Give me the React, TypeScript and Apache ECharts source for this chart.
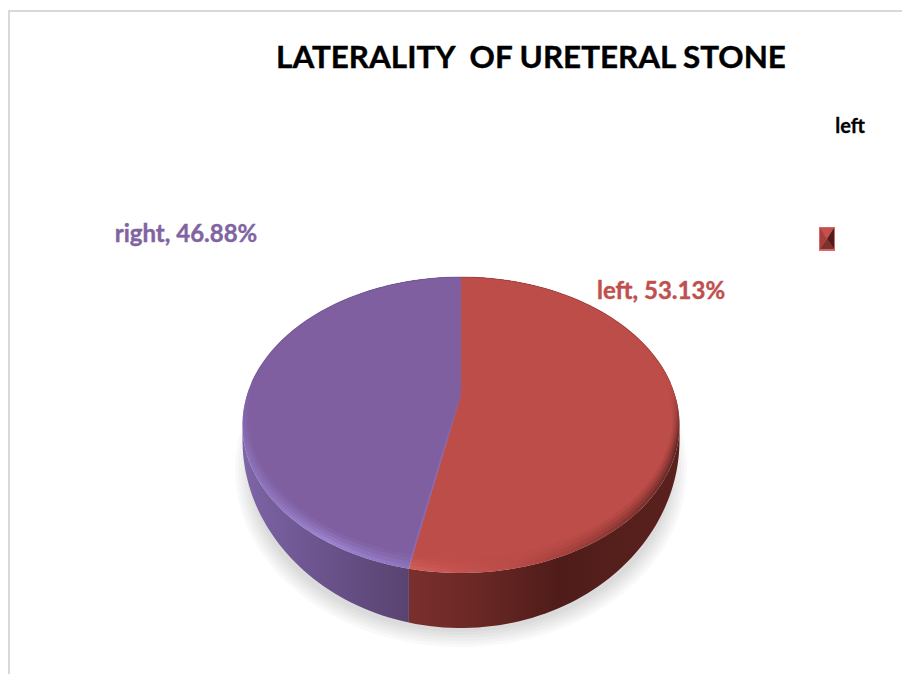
import React, { useEffect, useRef } from "react";
import * as echarts from "echarts";

const categories = ["left", "right"];
const percentages = [53.13, 46.88];
const titleText = "LATERALITY  OF URETERAL STONE";
const legendLabel = "left";

const FONT = "Lato, 'Open Sans', sans-serif";
const faceColors = ["#bd4d49", "#7f5fa0"];
const faceClear = ["rgba(189,77,73,0)", "rgba(127,95,160,0)"];
const edgeColors = ["rgba(120,40,36,0.4)", "rgba(90,65,120,0.4)"];
const labelColors = ["#bf504d", "#8064a2"];
const labelAnchors = [
  { x: 661, y: 289 },
  { x: 186, y: 232 },
];

// Projection of the round pie on to the page: a perspective ellipse.
const CX = 461;
const CY = 395;
const K = 0.2027;
const A = 214;
const B = 141.9;
const BOTTOM_CY = 440;
const BOTTOM_RY = 188;
const HALF_WIDTH = 218.5;
const WIDEST = 101.7;

function project(deg: number) {
  const t = (deg * Math.PI) / 180;
  const u = Math.sin(t);
  const v = -Math.cos(t);
  const w = 1 - K * v;
  return [CX + (A * u) / w, CY + (B * v) / w];
}

function arc(from: number, to: number) {
  const pts: number[][] = [];
  if (to <= from) return pts;
  const n = Math.max(2, Math.ceil(Math.abs(to - from) / 1.5));
  for (let i = 0; i <= n; i++) pts.push(project(from + ((to - from) * i) / n));
  return pts;
}

const grad = (x0: number, x1: number, stops: [number, string][]) =>
  new echarts.graphic.LinearGradient(
    x0, 0, x1, 0,
    stops.map(([offset, color]) => ({ offset, color })),
    true
  );
const vgrad = (y0: number, y1: number, stops: [number, string][]) =>
  new echarts.graphic.LinearGradient(
    0, y0, 0, y1,
    stops.map(([offset, color]) => ({ offset, color })),
    true
  );

const wallFills = [
  () => grad(411, 680, [[0, "#7a2f2d"], [0.25, "#6a2825"], [0.55, "#4f1c19"], [0.85, "#57201d"], [1, "#5a201d"]]),
  () => grad(245, 411, [[0, "#7d65a6"], [0.4, "#6d5590"], [1, "#58436f"]]),
];
const rimFills = [
  () => grad(411, 680, [[0, "#cf5c57"], [0.4, "#b84a46"], [0.75, "#8f3834"], [0.97, "#6d2b28"], [1, "#5a201d"]]),
  () => grad(243, 411, [[0, "#8a70b8"], [0.5, "#9c83cf"], [1, "#8b72bb"]]),
];

const total = percentages.reduce((a, b) => a + b, 0);

function renderSlice(params: any, api: any) {
  const i = params.dataIndex;
  let start = 0;
  for (let j = 0; j < i; j++) start += (percentages[j] / total) * 360;
  const end = start + (api.value(1) / total) * 360;

  const top = arc(start, end);
  const hub = [CX, CY];

  // Side wall: only the part of the arc that faces the viewer.
  const wallTop = arc(Math.max(start, WIDEST), Math.min(end, 360 - WIDEST));
  const wallBottom = wallTop
    .map(([x]) => {
      const d = Math.min(1, Math.abs(x - CX) / HALF_WIDTH);
      return [x, BOTTOM_CY + BOTTOM_RY * Math.sqrt(1 - d * d)];
    })
    .reverse();

  // Flat face, inset towards the back edge of the pie; stacked to soften the bevel.
  const inset = (s: number) => ([x, y]: number[]) =>
    [CX + (x - CX) * (1 - 0.032 * s), 277 + (y - 277) * (1 - 0.05 * s)];
  const steps: [number, number][] = [[0.25, 0.3], [0.5, 0.4], [0.75, 0.6], [1, 1]];

  const upperEdge = [
    ...arc(Math.max(start, 275), Math.min(end, 360)),
    ...arc(Math.max(start, 0), Math.min(end, 85)),
  ];

  return {
    type: "group",
    children: [
      { type: "polygon", shape: { points: [...wallTop, ...wallBottom] }, style: { fill: wallFills[i]() } },
      { type: "polygon", shape: { points: [hub, ...top] }, style: { fill: rimFills[i]() } },
      {
        type: "polygon",
        shape: { points: [hub, ...top] },
        style: { fill: vgrad(385, 450, [[0, faceColors[i]], [1, faceClear[i]]]) },
      },
      ...steps.map(([s, opacity]) => ({
        type: "polygon",
        shape: { points: [hub, ...top].map(inset(s)) },
        style: { fill: faceColors[i], opacity },
      })),
      {
        type: "polyline",
        shape: { points: upperEdge },
        style: { stroke: edgeColors[i], lineWidth: 1, fill: "none" },
      },
      {
        type: "text",
        x: labelAnchors[i].x,
        y: labelAnchors[i].y,
        style: {
          text: `${categories[i]}, ${api.value(1).toFixed(2)}%`,
          fill: labelColors[i],
          font: `bold 24px ${FONT}`,
          align: "center",
          verticalAlign: "middle",
          stroke: labelColors[i],
          lineWidth: 0.4,
        },
      },
    ],
  };
}

const MX = 819;
const MY = 227;
const MW = 16;
const MH = 24;
const mid = [MX + MW / 2, MY + MH / 2];
const shadowSteps = [0, 1, 2, 3, 4, 5];

export default function App() {
  const ref = useRef<HTMLDivElement>(null);

  useEffect(() => {
    const chart = echarts.init(ref.current!, null, { renderer: "svg" });
    chart.setOption({
      animation: false,
      backgroundColor: "#ffffff",
      title: {
        text: titleText,
        left: 526,
        top: 35,
        textAlign: "center",
        textStyle: {
          fontFamily: FONT,
          fontWeight: "bold",
          fontSize: 31.4,
          color: "#000000",
          textBorderColor: "#000000",
          textBorderWidth: 0.4,
        },
      },
      graphic: [
        { type: "line", shape: { x1: 9, y1: 11, x2: 902, y2: 11 }, style: { stroke: "#d9d9d9", lineWidth: 2 } },
        { type: "line", shape: { x1: 9, y1: 10, x2: 9, y2: 674 }, style: { stroke: "#d9d9d9", lineWidth: 2 } },
        ...shadowSteps.map((n) => ({
          type: "ellipse",
          shape: { cx: 461, cy: 470, rx: 226 - n * 3, ry: 177 - n * 3 },
          style: { fill: "#000000", opacity: 0.022 },
        })),
        {
          type: "text",
          x: 850,
          y: 125,
          style: {
            text: legendLabel,
            font: `bold 20px ${FONT}`,
            fill: "#000000",
            align: "center",
            verticalAlign: "middle",
            stroke: "#000000",
            lineWidth: 0.3,
          },
        },
        { type: "rect", shape: { x: MX, y: MY, width: MW, height: MH }, style: { fill: "#cf6a66" } },
        { type: "polygon", shape: { points: [[MX + 1, MY + 1], [MX + MW - 1, MY + 1], mid] }, style: { fill: "#c44f4b" } },
        { type: "polygon", shape: { points: [[MX + 1, MY + 1], [MX + 1, MY + MH - 2], mid] }, style: { fill: "#a83f3c" } },
        { type: "polygon", shape: { points: [[MX + MW - 1, MY + 1], [MX + MW - 1, MY + MH - 2], mid] }, style: { fill: "#4f1c19" } },
        { type: "polygon", shape: { points: [[MX + 1, MY + MH - 2], [MX + MW - 1, MY + MH - 2], mid] }, style: { fill: "#7e302d" } },
      ],
      series: [
        {
          type: "custom",
          coordinateSystem: "none",
          silent: true,
          data: categories.map((name, i) => ({ name, value: [i, percentages[i]] })),
          renderItem: renderSlice,
        },
      ],
    });
    return () => chart.dispose();
  }, []);

  return <div ref={ref} style={{ position: "absolute", left: 0, top: 0, width: 902, height: 674 }} />;
}
